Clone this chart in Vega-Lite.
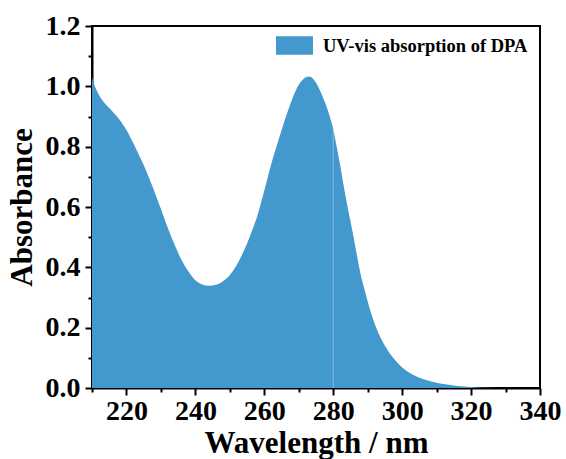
{
  "$schema": "https://vega.github.io/schema/vega-lite/v6.json",
  "width": 448,
  "height": 362,
  "autosize": {"type": "none"},
  "padding": {"left": 92, "top": 26, "right": 26, "bottom": 71},
  "background": "white",
  "config": {
    "view": {"stroke": "black", "strokeWidth": 2},
    "font": "Liberation Serif"
  },
  "datasets": {
    "spectrum": [
      {"wl": 210, "abs": 1.03, "series": "UV-vis absorption of DPA"},
      {"wl": 211, "abs": 0.995, "series": "UV-vis absorption of DPA"},
      {"wl": 212, "abs": 0.972, "series": "UV-vis absorption of DPA"},
      {"wl": 213, "abs": 0.954, "series": "UV-vis absorption of DPA"},
      {"wl": 214, "abs": 0.94, "series": "UV-vis absorption of DPA"},
      {"wl": 215, "abs": 0.928, "series": "UV-vis absorption of DPA"},
      {"wl": 216, "abs": 0.916, "series": "UV-vis absorption of DPA"},
      {"wl": 217, "abs": 0.903, "series": "UV-vis absorption of DPA"},
      {"wl": 218, "abs": 0.889, "series": "UV-vis absorption of DPA"},
      {"wl": 219, "abs": 0.873, "series": "UV-vis absorption of DPA"},
      {"wl": 220, "abs": 0.855, "series": "UV-vis absorption of DPA"},
      {"wl": 221, "abs": 0.834, "series": "UV-vis absorption of DPA"},
      {"wl": 222, "abs": 0.811, "series": "UV-vis absorption of DPA"},
      {"wl": 223, "abs": 0.787, "series": "UV-vis absorption of DPA"},
      {"wl": 224, "abs": 0.763, "series": "UV-vis absorption of DPA"},
      {"wl": 225, "abs": 0.739, "series": "UV-vis absorption of DPA"},
      {"wl": 226, "abs": 0.712, "series": "UV-vis absorption of DPA"},
      {"wl": 227, "abs": 0.684, "series": "UV-vis absorption of DPA"},
      {"wl": 228, "abs": 0.655, "series": "UV-vis absorption of DPA"},
      {"wl": 229, "abs": 0.624, "series": "UV-vis absorption of DPA"},
      {"wl": 230, "abs": 0.593, "series": "UV-vis absorption of DPA"},
      {"wl": 232, "abs": 0.53, "series": "UV-vis absorption of DPA"},
      {"wl": 234, "abs": 0.474, "series": "UV-vis absorption of DPA"},
      {"wl": 236, "abs": 0.424, "series": "UV-vis absorption of DPA"},
      {"wl": 238, "abs": 0.386, "series": "UV-vis absorption of DPA"},
      {"wl": 240, "abs": 0.357, "series": "UV-vis absorption of DPA"},
      {"wl": 242, "abs": 0.343, "series": "UV-vis absorption of DPA"},
      {"wl": 244, "abs": 0.339, "series": "UV-vis absorption of DPA"},
      {"wl": 246, "abs": 0.342, "series": "UV-vis absorption of DPA"},
      {"wl": 248, "abs": 0.354, "series": "UV-vis absorption of DPA"},
      {"wl": 250, "abs": 0.375, "series": "UV-vis absorption of DPA"},
      {"wl": 252, "abs": 0.408, "series": "UV-vis absorption of DPA"},
      {"wl": 254, "abs": 0.453, "series": "UV-vis absorption of DPA"},
      {"wl": 256, "abs": 0.508, "series": "UV-vis absorption of DPA"},
      {"wl": 258, "abs": 0.572, "series": "UV-vis absorption of DPA"},
      {"wl": 260, "abs": 0.655, "series": "UV-vis absorption of DPA"},
      {"wl": 262, "abs": 0.742, "series": "UV-vis absorption of DPA"},
      {"wl": 264, "abs": 0.818, "series": "UV-vis absorption of DPA"},
      {"wl": 266, "abs": 0.89, "series": "UV-vis absorption of DPA"},
      {"wl": 268, "abs": 0.955, "series": "UV-vis absorption of DPA"},
      {"wl": 270, "abs": 1.005, "series": "UV-vis absorption of DPA"},
      {"wl": 271, "abs": 1.02, "series": "UV-vis absorption of DPA"},
      {"wl": 272, "abs": 1.03, "series": "UV-vis absorption of DPA"},
      {"wl": 273, "abs": 1.033, "series": "UV-vis absorption of DPA"},
      {"wl": 274, "abs": 1.027, "series": "UV-vis absorption of DPA"},
      {"wl": 275, "abs": 1.012, "series": "UV-vis absorption of DPA"},
      {"wl": 276, "abs": 0.99, "series": "UV-vis absorption of DPA"},
      {"wl": 277, "abs": 0.963, "series": "UV-vis absorption of DPA"},
      {"wl": 278, "abs": 0.935, "series": "UV-vis absorption of DPA"},
      {"wl": 279, "abs": 0.9, "series": "UV-vis absorption of DPA"},
      {"wl": 280, "abs": 0.858, "series": "UV-vis absorption of DPA"},
      {"wl": 281, "abs": 0.8, "series": "UV-vis absorption of DPA"},
      {"wl": 282, "abs": 0.74, "series": "UV-vis absorption of DPA"},
      {"wl": 283, "abs": 0.672, "series": "UV-vis absorption of DPA"},
      {"wl": 284, "abs": 0.61, "series": "UV-vis absorption of DPA"},
      {"wl": 285, "abs": 0.553, "series": "UV-vis absorption of DPA"},
      {"wl": 286, "abs": 0.495, "series": "UV-vis absorption of DPA"},
      {"wl": 287, "abs": 0.432, "series": "UV-vis absorption of DPA"},
      {"wl": 288, "abs": 0.375, "series": "UV-vis absorption of DPA"},
      {"wl": 289, "abs": 0.33, "series": "UV-vis absorption of DPA"},
      {"wl": 290, "abs": 0.287, "series": "UV-vis absorption of DPA"},
      {"wl": 291, "abs": 0.248, "series": "UV-vis absorption of DPA"},
      {"wl": 292, "abs": 0.214, "series": "UV-vis absorption of DPA"},
      {"wl": 293, "abs": 0.186, "series": "UV-vis absorption of DPA"},
      {"wl": 294, "abs": 0.161, "series": "UV-vis absorption of DPA"},
      {"wl": 296, "abs": 0.122, "series": "UV-vis absorption of DPA"},
      {"wl": 298, "abs": 0.092, "series": "UV-vis absorption of DPA"},
      {"wl": 300, "abs": 0.068, "series": "UV-vis absorption of DPA"},
      {"wl": 302, "abs": 0.051, "series": "UV-vis absorption of DPA"},
      {"wl": 304, "abs": 0.039, "series": "UV-vis absorption of DPA"},
      {"wl": 306, "abs": 0.03, "series": "UV-vis absorption of DPA"},
      {"wl": 308, "abs": 0.023, "series": "UV-vis absorption of DPA"},
      {"wl": 310, "abs": 0.017, "series": "UV-vis absorption of DPA"},
      {"wl": 312, "abs": 0.013, "series": "UV-vis absorption of DPA"},
      {"wl": 314, "abs": 0.01, "series": "UV-vis absorption of DPA"},
      {"wl": 316, "abs": 0.007, "series": "UV-vis absorption of DPA"},
      {"wl": 318, "abs": 0.005, "series": "UV-vis absorption of DPA"},
      {"wl": 320, "abs": 0.003, "series": "UV-vis absorption of DPA"},
      {"wl": 322, "abs": 0.002, "series": "UV-vis absorption of DPA"},
      {"wl": 325, "abs": 0.001, "series": "UV-vis absorption of DPA"},
      {"wl": 330, "abs": 0.0, "series": "UV-vis absorption of DPA"},
      {"wl": 340, "abs": 0.0, "series": "UV-vis absorption of DPA"}
    ],
    "seam": [{"wl": 280, "lo": 0, "hi": 0.858}]
  },
  "resolve": {"axis": {"x": "independent", "y": "independent"}},
  "layer": [
    {
      "data": {"name": "spectrum"},
      "mark": {"type": "area", "interpolate": "monotone", "clip": true},
      "encoding": {
        "x": {
          "field": "wl", "type": "quantitative",
          "scale": {"domain": [210, 340], "nice": false, "zero": false},
          "axis": {
            "orient": "bottom",
            "title": "Wavelength / nm",
            "values": [220, 240, 260, 280, 300, 320, 340],
            "tickSize": 7, "tickWidth": 2, "tickColor": "black",
            "domainColor": "black", "domainWidth": 2,
            "labelFont": "Liberation Serif", "labelFontWeight": "bold", "labelFontSize": 28, "labelColor": "black",
            "labelPadding": 2, "labelFlush": false, "labelOverlap": false,
            "titleFont": "Liberation Serif", "titleFontWeight": "bold", "titleFontSize": 31, "titleColor": "black",
            "titlePadding": 3,
            "grid": false
          }
        },
        "y": {
          "field": "abs", "type": "quantitative",
          "scale": {"domain": [0, 1.2], "nice": false},
          "axis": {
            "orient": "left",
            "title": "Absorbance",
            "values": [0, 0.2, 0.4, 0.6, 0.8, 1.0, 1.2],
            "format": ".1f",
            "tickSize": 7, "tickWidth": 2, "tickColor": "black",
            "domainColor": "black", "domainWidth": 2,
            "labelFont": "Liberation Serif", "labelFontWeight": "bold", "labelFontSize": 28, "labelColor": "black",
            "labelPadding": 5, "labelFlush": false, "labelOverlap": false,
            "titleFont": "Liberation Serif", "titleFontWeight": "bold", "titleFontSize": 31, "titleColor": "black",
            "titlePadding": 7,
            "grid": false
          }
        },
        "color": {
          "field": "series", "type": "nominal",
          "scale": {"range": ["#4398CE"]},
          "legend": {
            "title": null,
            "orient": "none",
            "legendX": 184,
            "legendY": 1,
            "symbolType": "M-1,-0.5H1V0.5H-1Z",
            "symbolSize": 1369,
            "symbolStrokeWidth": 0,
            "symbolOpacity": 1,
            "labelFont": "Liberation Serif",
            "labelFontWeight": "bold",
            "labelFontSize": 18.5,
            "labelColor": "black",
            "labelLimit": 0,
            "labelOffset": 10,
            "padding": 0
          }
        }
      }
    },
    {
      "data": {"name": "seam"},
      "mark": {"type": "rule", "color": "white", "opacity": 0.35, "strokeWidth": 1},
      "encoding": {
        "x": {
          "field": "wl", "type": "quantitative",
          "scale": {"domain": [210, 340], "nice": false, "zero": false},
          "axis": {
            "orient": "bottom",
            "title": null,
            "values": [210, 230, 250, 270, 290, 310, 330],
            "labels": false, "domain": false, "grid": false,
            "tickSize": 4, "tickWidth": 2, "tickColor": "black"
          }
        },
        "y": {
          "field": "lo", "type": "quantitative",
          "scale": {"domain": [0, 1.2], "nice": false},
          "axis": {
            "orient": "left",
            "title": null,
            "values": [0.1, 0.3, 0.5, 0.7, 0.9, 1.1],
            "labels": false, "domain": false, "grid": false,
            "tickSize": 4, "tickWidth": 2, "tickColor": "black"
          }
        },
        "y2": {"field": "hi"}
      }
    }
  ]
}
